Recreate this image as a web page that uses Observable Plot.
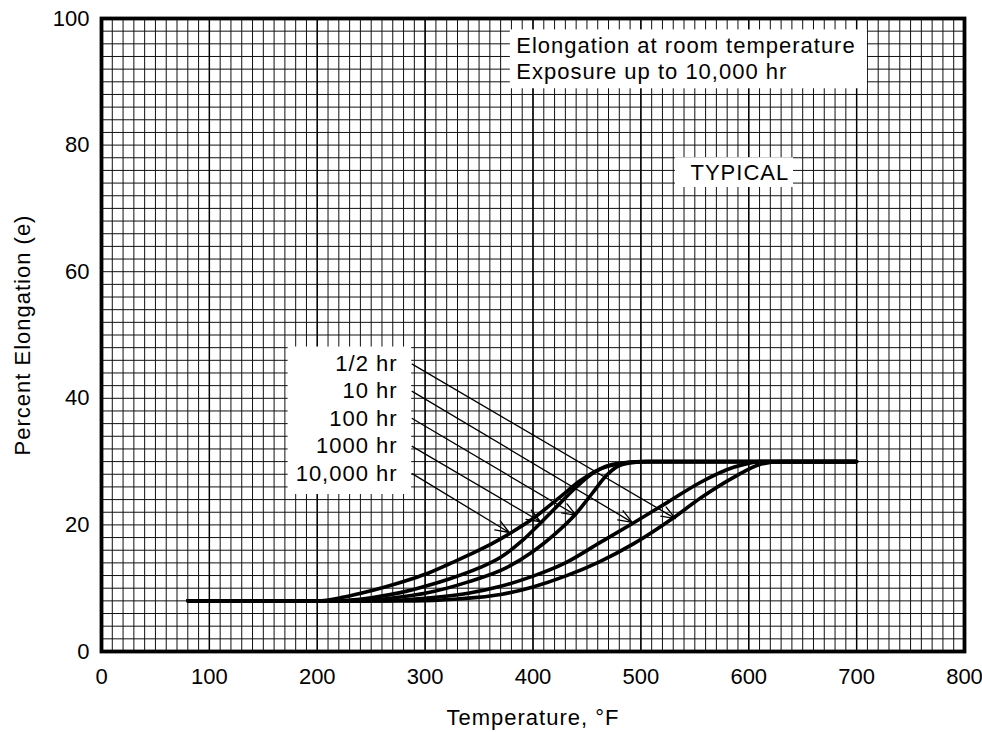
<!DOCTYPE html>
<html><head><meta charset="utf-8">
<script src="https://cdn.jsdelivr.net/npm/d3@7"></script>
<script src="https://cdn.jsdelivr.net/npm/@observablehq/plot@0.6"></script>
<style>body{margin:0;background:#fff}</style>
</head><body><div id="chart"></div>
<script>
// Tick labels
const xTicks = [0, 100, 200, 300, 400, 500, 600, 700, 800];
const yTicks = [0, 20, 40, 60, 80, 100];

// Series: [temperature °F, percent elongation]
const exposures = ["1/2 hr", "10 hr", "100 hr", "1000 hr", "10,000 hr"];
const hrHalf = [[80,8],[290,8],[330,8.3],[370,9],[400,10.2],[430,11.9],[462,14.2],[493,17.0],[530,21.1],[555,24.2],[586,27.5],[611,29.6],[630,30],[700,30]];
const hr10 = [[80,8],[260,8],[300,8.4],[340,9.2],[370,10.3],[400,11.9],[430,14],[462,17.2],[493,20.3],[525,23.6],[555,26.7],[586,29.1],[611,30],[700,30]];
const hr100 = [[80,8],[240,8],[277,8.6],[300,9.2],[340,11],[376,13.3],[400,15.8],[420,18.5],[440,21.8],[455,25],[467,27.6],[478,29.2],[490,29.8],[505,30],[700,30]];
const hr1000 = [[80,8],[215,8],[250,8.5],[277,9.3],[300,10.3],[323,11.5],[350,13.2],[370,14.9],[390,17.5],[407,20.3],[425,23.4],[441,26.1],[455,28.1],[470,29.4],[490,29.9],[510,30],[700,30]];
const hr10000 = [[80,8],[200,8],[225,8.6],[250,9.6],[277,10.9],[300,12.2],[323,13.9],[350,16],[370,17.8],[380,18.8],[400,21],[425,24.4],[444,27],[462,28.8],[481,29.7],[500,30],[700,30]];
const seriesPoints = [hrHalf, hr10, hr100, hr1000, hr10000];

// Callout arrows (label start -> point on curve)
const arrowStartT = 288;
const labelY = [45.4, 41.1, 36.8, 32.4, 28.1];
const arrowEndT = [532, 492, 440, 407, 378];
const arrowEndE = [21.0, 20.4, 21.5, 20.5, 18.8];
const labelT = 274.5;

// Notes
const notes = ["Elongation at room temperature", "Exposure up to 10,000 hr"];
const notesT = 384.5;
const notesY = [95.7, 91.6];
const typicalText = "TYPICAL";
const typicalT = 546;
const typicalY = 75.6;
const boxes = [
  {x1: 173, x2: 287.5, y1: 24.8, y2: 48.1},
  {x1: 379, x2: 710, y1: 88.9, y2: 98.2},
  {x1: 532, x2: 641.5, y1: 73.3, y2: 78.0}
];

const curves = seriesPoints.flatMap((pts, i) => pts.map(([t, e]) => ({t, e, s: exposures[i]})));
const arrows = exposures.map((s, i) => ({s, x1: arrowStartT, y1: labelY[i], x2: arrowEndT[i], y2: arrowEndE[i]}));
const labels = exposures.map((s, i) => ({s, y: labelY[i]}));
const noteRows = notes.map((n, i) => ({n, y: notesY[i]}));

const chart = Plot.plot({
  width: 982, height: 732,
  marginLeft: 101, marginRight: 18, marginTop: 18, marginBottom: 81,
  x: {domain: [0, 800]},
  y: {domain: [0, 100]},
  style: {fontFamily: "'Liberation Sans', Arial, sans-serif", fontSize: "22px", color: "#000", background: "#fff", overflow: "visible"},
  marks: [
    Plot.ruleX(d3.range(0, 801, 10), {stroke: "#111", strokeWidth: 1}),
    Plot.ruleY(d3.range(0, 101, 2), {stroke: "#111", strokeWidth: 1}),
    Plot.ruleX(xTicks, {stroke: "#000", strokeWidth: 1.4}),
    Plot.rect(boxes, {x1: "x1", x2: "x2", y1: "y1", y2: "y2", fill: "#fff"}),
    Plot.line(curves, {x: "t", y: "e", z: "s", curve: "monotone-x", stroke: "#000", strokeWidth: 3.6, strokeLinecap: "round", strokeLinejoin: "round"}),
    Plot.arrow(arrows, {x1: "x1", y1: "y1", x2: "x2", y2: "y2", stroke: "#000", strokeWidth: 1.3, headLength: 17, headAngle: 42}),
    Plot.text(labels, {x: () => labelT, y: "y", text: "s", textAnchor: "end"}),
    Plot.text(noteRows, {x: () => notesT, y: "y", text: "n", textAnchor: "start"}),
    Plot.text([typicalText], {x: () => typicalT, y: () => typicalY, text: d => d, textAnchor: "start"}),
    Plot.axisX(xTicks, {tickSize: 0, tickPadding: 17, label: null}),
    Plot.axisY(yTicks, {tickSize: 0, tickPadding: 12, label: null}),
    Plot.frame({stroke: "#000", strokeWidth: 3.8}),
    Plot.text(["Temperature, °F"], {frameAnchor: "bottom", dy: 66, lineAnchor: "middle", textAnchor: "middle", text: d => d}),
    Plot.text(["Percent Elongation (e)"], {frameAnchor: "left", dx: -79, rotate: -90, textAnchor: "middle", lineAnchor: "middle", text: d => d})
  ]
});
// Annotation texts in the reference are slightly wider-set than the tick labels
chart.querySelectorAll('g[aria-label="text"]').forEach(g => g.setAttribute("letter-spacing", "1px"));
document.getElementById("chart").append(chart);
</script>
</body></html>
